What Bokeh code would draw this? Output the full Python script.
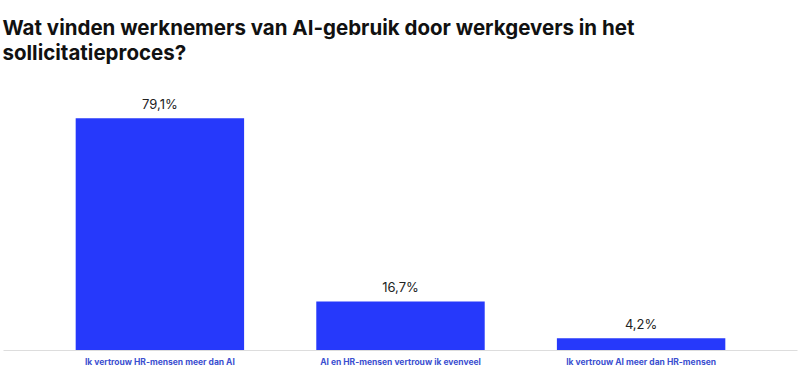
from bokeh.plotting import figure
from bokeh.models import ColumnDataSource, LabelSet, FactorRange, Range1d
from bokeh.core.properties import value
from bokeh.embed import file_html
from bokeh.resources import INLINE

categories = ["Ik vertrouw HR-mensen meer dan AI",
              "AI en HR-mensen vertrouw ik evenveel",
              "Ik vertrouw AI meer dan HR-mensen"]
values = [79.1, 16.7, 4.2]
labels = [f"{v:.1f}%".replace(".", ",") for v in values]
title_text = "Wat vinden werknemers van AI-gebruik door werkgevers in het\nsollicitatieproces?"

src = ColumnDataSource(dict(cat=categories, val=values, lab=labels))

p = figure(width=800, height=369, output_backend="svg", toolbar_location=None,
           x_range=FactorRange(*categories, range_padding=0.1),
           y_range=Range1d(0, 93),
           title=title_text, min_border_left=3, min_border_right=3,
           min_border_top=0, min_border_bottom=0)
p.title.text_font = "Inter"
p.title.text_font_size = "20.5px"
p.title.text_font_style = "bold"
p.title.text_color = "#111111"
p.title.text_line_height = 1.0
p.title.offset = -1
p.title.standoff = 25

p.vbar(x="cat", top="val", width=0.7, source=src, color="#2639fb", line_color=None)
p.add_layout(LabelSet(x="cat", y="val", text="lab", source=src, text_align="center",
                      text_baseline="bottom", y_offset=6, text_font=value("Inter"),
                      text_font_size="13px", text_color="#222222"))

p.yaxis.visible = False
p.xgrid.visible = False
p.ygrid.visible = False
p.outline_line_color = None
ax = p.xaxis[0]
ax.axis_line_color = "#dddddd"
ax.major_tick_line_color = None
ax.minor_tick_line_color = None
ax.major_tick_out = 0
ax.major_tick_in = 0
ax.major_label_text_font = "Inter"
ax.major_label_text_font_size = "8.5px"
ax.major_label_text_font_style = "bold"
ax.major_label_text_color = "#3b4fd0"
ax.major_label_standoff = 6
p.background_fill_color = "white"
p.border_fill_color = "white"

open("out.html", "w").write(file_html(p, INLINE))
